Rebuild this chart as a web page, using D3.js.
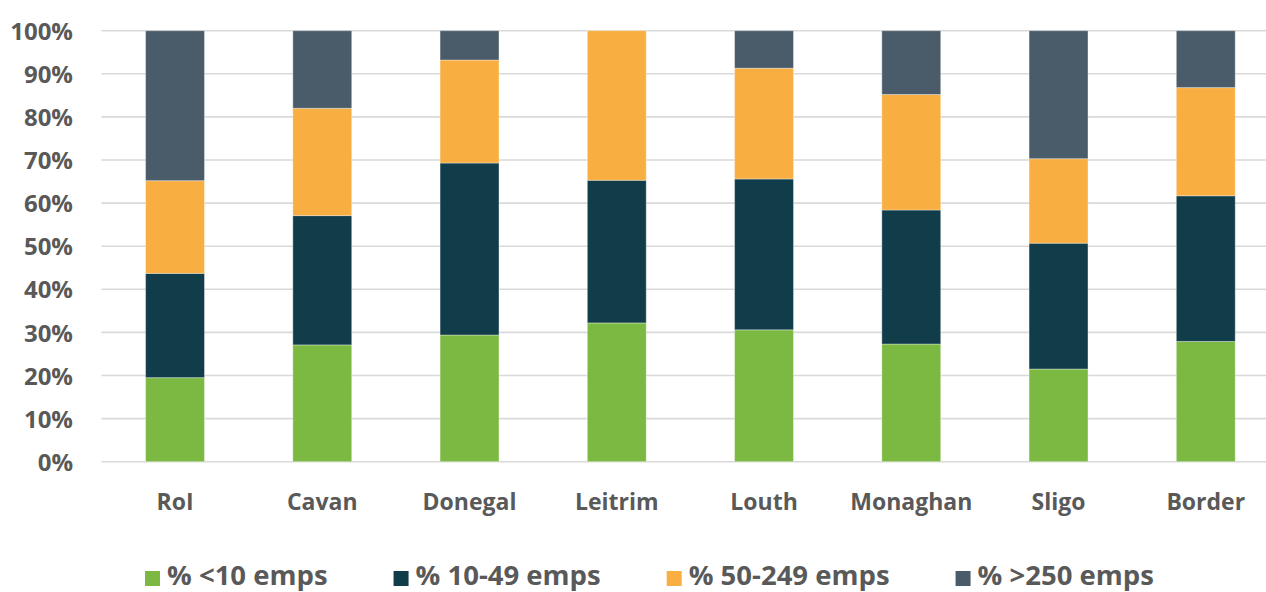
<!DOCTYPE html>
<html>
<head>
<meta charset="utf-8">
<script src="https://cdn.jsdelivr.net/npm/d3@7"></script>
<style>
  body { margin: 0; background: #fff; }
  svg { display: block; font-family: "Open Sans", sans-serif; }
</style>
</head>
<body>
<svg id="chart" width="1266" height="592"></svg>
<script>
// regions along the x axis
const regions = ['RoI', 'Cavan', 'Donegal', 'Leitrim', 'Louth', 'Monaghan', 'Sligo', 'Border'];

// share of enterprises by employee band (percent)
const under10 = [19.5, 27.1, 29.4, 32.2, 30.6, 27.3, 21.5, 27.9];
const from10to49 = [24.2, 30.0, 39.9, 33.1, 35.0, 31.1, 29.2, 33.8];
const from50to249 = [21.5, 24.9, 23.9, 34.7, 25.7, 26.8, 19.6, 25.1];
const over250 = [34.8, 18.0, 6.8, 0.0, 8.7, 14.8, 29.7, 13.2];

const seriesNames = ['% <10 emps', '% 10-49 emps', '% 50-249 emps', '% >250 emps'];
const yTicks = [0, 10, 20, 30, 40, 50, 60, 70, 80, 90, 100];

const colors = ['#7cb942', '#113d4a', '#f8ae40', '#4a5c69'];
const textColor = '#595959';

const keys = ['a', 'b', 'c', 'd'];
const rows = regions.map((r, i) => ({
    region: r,
    a: under10[i],
    b: from10to49[i],
    c: from50to249[i],
    d: over250[i]
}));

const svg = d3.select('#chart');

const x = d3.scaleBand()
    .domain(regions)
    .range([101.4, 1279.4])
    .paddingInner(0.6)
    .paddingOuter(0.3);

const y = d3.scaleLinear()
    .domain([0, 100])
    .range([461.7, 30.7]);

// gridlines
svg.append('g')
    .selectAll('line')
    .data(yTicks)
    .enter().append('line')
    .attr('x1', 101.4)
    .attr('x2', 1266)
    .attr('y1', d => y(d))
    .attr('y2', d => y(d))
    .style('stroke', '#d9d9d9')
    .style('stroke-width', 1.6);

// y axis labels
const yAxis = svg.append('g')
    .attr('transform', 'translate(73,0)')
    .call(d3.axisLeft(y).tickValues(yTicks).tickSize(0).tickPadding(0).tickFormat(d => d + '%'));
yAxis.select('.domain').remove();
yAxis.selectAll('text')
    .attr('dy', '0.36em')
    .style('font-family', '"Open Sans", sans-serif')
    .style('font-size', '24px')
    .style('font-weight', 700)
    .style('fill', textColor);

// stacked bars
const stacked = d3.stack().keys(keys)(rows);
svg.append('g')
    .selectAll('.series')
    .data(stacked)
    .enter().append('g')
    .attr('class', 'series')
    .style('fill', (d, i) => colors[i])
    .selectAll('rect')
    .data(d => d)
    .enter().append('rect')
    .attr('x', d => x(d.data.region))
    .attr('width', x.bandwidth())
    .attr('y', d => y(d[1]))
    .attr('height', d => y(d[0]) - y(d[1]))
    .style('stroke', 'rgba(255,255,255,0.35)')
    .style('stroke-width', 1);

// x axis labels
const xAxis = svg.append('g')
    .attr('transform', 'translate(0,510)')
    .call(d3.axisBottom(x).tickSize(0).tickPadding(0));
xAxis.select('.domain').remove();
xAxis.selectAll('text')
    .attr('dy', 0)
    .style('font-family', '"Open Sans", sans-serif')
    .style('font-size', '23px')
    .style('font-weight', 700)
    .style('fill', textColor);

// legend
const legend = svg.append('g').attr('transform', 'translate(145,0)');
let lx = 0;
seriesNames.forEach((name, i) => {
    const item = legend.append('g').attr('transform', `translate(${lx},0)`);
    item.append('rect')
        .attr('x', 0)
        .attr('y', 571)
        .attr('width', 15)
        .attr('height', 15)
        .style('fill', colors[i]);
    const t = item.append('text')
        .attr('x', 22)
        .attr('y', 585)
        .text(name)
        .style('font-family', '"Open Sans", sans-serif')
        .style('font-size', '27.5px')
        .style('font-weight', 700)
        .style('fill', textColor);
    lx += 22 + t.node().getComputedTextLength() + 66;
});
</script>
</body>
</html>
